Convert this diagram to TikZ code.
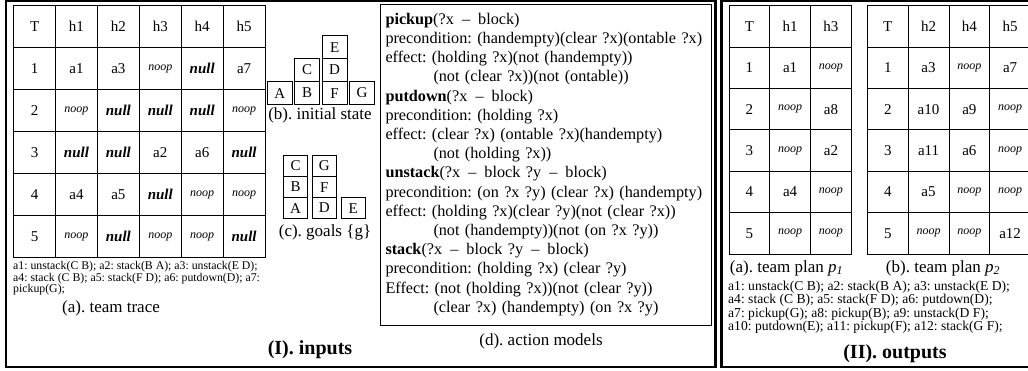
\documentclass[tikz,border=0pt]{standalone}
\usepackage{fontspec}
\setmainfont{Liberation Serif}
\usetikzlibrary{matrix, positioning}

\tikzset{
  cell/.style={draw, line width=0.9pt, anchor=center, minimum width=41.9pt, minimum height=42pt, inner sep=0pt, font=\fontsize{15}{15}\selectfont},
  pcell/.style={cell, minimum width=40.8pt, minimum height=41.4pt},
  nooptext/.style={font=\fontsize{12}{12}\selectfont\itshape},
  nulltext/.style={font=\fontsize{15}{15}\selectfont\bfseries\itshape},
  block/.style={draw, line width=0.8pt, anchor=center, minimum width=25pt, minimum height=23pt, inner sep=0pt, font=\fontsize{15}{15}\selectfont},
  goalblock/.style={block, minimum width=24pt, minimum height=21pt},
  frame/.style={draw, line width=2.4pt},
  caption/.style={font=\fontsize{17}{17}\selectfont},
  title/.style={font=\fontsize{20}{20}\selectfont\bfseries},
  keynote/.style={align=left, inner sep=0pt, anchor=north west},
  modelbox/.style={draw, line width=0.9pt, minimum width=331pt, minimum height=321pt, text width=320pt, align=left, inner sep=0pt, font=\fontsize{16.2}{19.2}\selectfont},
}

\begin{document}
\frenchspacing
\begin{tikzpicture}[x=1pt, y=-1pt]
\useasboundingbox (0,0) rectangle (1028,371);
% the two panels
\draw[frame] (6,1) rectangle (715.5,367);
\draw[frame] (721.5,1) rectangle (1040,367);

% (a) team trace
\matrix (trace) [matrix of nodes, nodes={cell}, inner sep=0pt, column sep=-0.9pt, row sep=-0.9pt, anchor=north west] at (13,5) {
T & h1 & h2 & h3 & h4 & h5 \\
1 & a1 & a3 & |[nooptext]| noop & |[nulltext]| null & a7 \\
2 & |[nooptext]| noop & |[nulltext]| null & |[nulltext]| null & |[nulltext]| null & |[nooptext]| noop \\
3 & |[nulltext]| null & |[nulltext]| null & a2 & a6 & |[nulltext]| null \\
4 & a4 & a5 & |[nulltext]| null & |[nooptext]| noop & |[nooptext]| noop \\
5 & |[nooptext]| noop & |[nulltext]| null & |[nooptext]| noop & |[nooptext]| noop & |[nulltext]| null \\
};
\node[keynote, font=\fontsize{11.8}{10.4}\selectfont] (tracekey) at (13,261) {a1: unstack(C B); a2: stack(B A); a3: unstack(E D);\\
a4: stack (C B); a5: stack(F D); a6: putdown(D); a7:\\
pickup(G);};
\node[caption] (tracecap) at (111,308) {(a). team trace};

% (b) initial state
\matrix (init) [matrix of nodes, nodes={block}, inner sep=0pt, column sep=1.6pt, row sep=-0.8pt, anchor=north west] at (266.7,35) {
  &   & E &   \\
  & C & D &   \\
A & B & F & G \\
};
\node[caption] (initcap) at (320,115) {(b). initial state};

% (c) goals
\matrix (goal) [matrix of nodes, nodes={goalblock}, inner sep=0pt, column sep=4pt, row sep=-0.8pt, anchor=north west] at (283,155) {
C & G &   \\
B & F &   \\
A & D & E \\
};
\node[caption] (goalcap) at (325,232) {(c). goals \{g\}};

% (d) action models
\node[modelbox] (models) at (545.5,164.5) {%
\textbf{pickup}(?x\enspace–\enspace block)\\
precondition: (handempty)(clear ?x)(ontable ?x)\\
effect: (holding ?x)(not (handempty))\\
\hspace*{48pt}(not (clear ?x))(not (ontable))\\
\textbf{putdown}(?x\enspace–\enspace block)\\
precondition: (holding ?x)\\
effect: (clear ?x) (ontable ?x)(handempty)\\
\hspace*{48pt}(not (holding ?x))\\
\textbf{unstack}(?x\enspace–\enspace block ?y\enspace–\enspace block)\\
precondition: (on ?x ?y) (clear ?x) (handempty)\\
effect: (holding ?x)(clear ?y)(not (clear ?x))\\
\hspace*{48pt}(not (handempty))(not (on ?x ?y))\\
\textbf{stack}(?x\enspace–\enspace block ?y\enspace–\enspace block)\\
precondition: (holding ?x) (clear ?y)\\
Effect: (not (holding ?x))(not (clear ?y))\\
\hspace*{48pt}(clear ?x) (handempty) (on ?x ?y)};
\node[caption] (modelcap) at (541,341) {(d). action models};
\node[title] (inputs) at (310,350) {(I). inputs};

% (II) team plans
\matrix (planone) [matrix of nodes, nodes={pcell}, inner sep=0pt, column sep=-0.9pt, row sep=-0.9pt, anchor=north west] at (728.3,5) {
T & h1 & h3 \\
1 & a1 & |[nooptext]| noop \\
2 & |[nooptext]| noop & a8 \\
3 & |[nooptext]| noop & a2 \\
4 & a4 & |[nooptext]| noop \\
5 & |[nooptext]| noop & |[nooptext]| noop \\
};
\matrix (plantwo) [matrix of nodes, nodes={pcell}, inner sep=0pt, column sep=-0.9pt, row sep=-0.9pt, anchor=north west] at (866.7,5) {
T & h2 & h4 & h5 \\
1 & a3 & |[nooptext]| noop & a7 \\
2 & a10 & a9 & |[nooptext]| noop \\
3 & a11 & a6 & |[nooptext]| noop \\
4 & a5 & |[nooptext]| noop & |[nooptext]| noop \\
5 & |[nooptext]| noop & |[nooptext]| noop & a12 \\
};
\node[caption] (onecap) at (786.5,268) {(a). team plan \textit{p}\textsubscript{\textit{1}}};
\node[caption] (twocap) at (943,268) {(b). team plan \textit{p}\textsubscript{\textit{2}}};
\node[keynote, font=\fontsize{13.6}{11.7}\selectfont] (plankey) at (728,281) {a1: unstack(C B); a2: stack(B A); a3: unstack(E D);\\
a4: stack (C B); a5: stack(F D); a6: putdown(D);\\
a7: pickup(G); a8: pickup(B); a9: unstack(D F);\\
a10: putdown(E); a11: pickup(F); a12: stack(G F);};
\node[title] (outputs) at (895,354) {(II). outputs};
\end{tikzpicture}
\end{document}
